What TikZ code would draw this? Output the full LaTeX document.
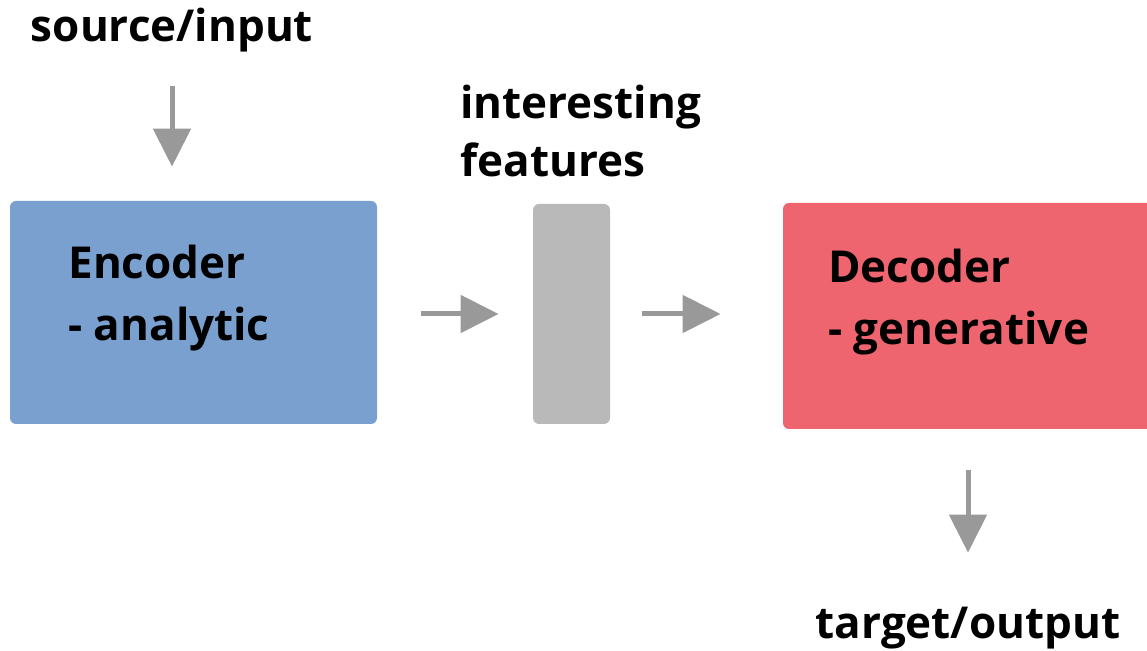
\documentclass[tikz,border=0pt]{standalone}
\usepackage{fontspec}
\setmainfont{Open Sans}
\usetikzlibrary{positioning}
\usetikzlibrary{arrows.meta}
\definecolor{encblue}{RGB}{122,160,208}
\definecolor{decred}{RGB}{238,101,112}
\definecolor{featgray}{RGB}{185,185,185}
\definecolor{arrgray}{RGB}{153,153,153}

\begin{document}
\begin{tikzpicture}[x=0.5pt,y=-0.5pt,
  lbl/.style={font=\fontsize{22}{29}\selectfont\bfseries, inner sep=0pt},
  blocktxt/.style={lbl, align=left, anchor=west, font=\fontsize{22}{31}\selectfont\bfseries},
  block/.style={rounded corners=3pt, inner sep=0pt},
  arr/.style={arrgray, line width=2.5pt, -{Triangle[width=18.5pt,length=19pt]}}]
 \useasboundingbox (0,0) rectangle (1147,651);
 \node[lbl] (src) at (172,30) {source/input};
 \node[block, fill=encblue, minimum width=183.5pt, minimum height=111.5pt] (enc) at (193.5,312.5) {};
 \node[blocktxt] (enctxt) at (68,298) {Encoder\\- analytic};
 \node[block, fill=featgray, minimum width=38.5pt, minimum height=110pt] (feat) at (571.5,314) {};
 \node[lbl, align=left, anchor=west, font=\fontsize{22}{29}\selectfont\bfseries] (featlbl) at (460,131) {interesting\\features};
 \node[block, fill=decred, minimum width=193.5pt, minimum height=113pt] (dec) at (976.5,316) {};
 \node[blocktxt] (dectxt) at (828,302) {Decoder\\- generative};
 \node[lbl] (tgt) at (968,628) {target/output};
 \draw[arr, shorten <=17pt, shorten >=17pt] (src) -- (src |- enc.north);
 \draw[arr, shorten <=22pt, shorten >=17pt] (enc.east |- feat.west) -- (feat.west);
 \draw[arr, shorten <=16pt, shorten >=31pt] (feat.east) -- (feat.east -| dec.west);
 \draw[arr, shorten <=20.5pt, shorten >=27pt] (tgt |- dec.south) -- (tgt);
\end{tikzpicture}
\end{document}
